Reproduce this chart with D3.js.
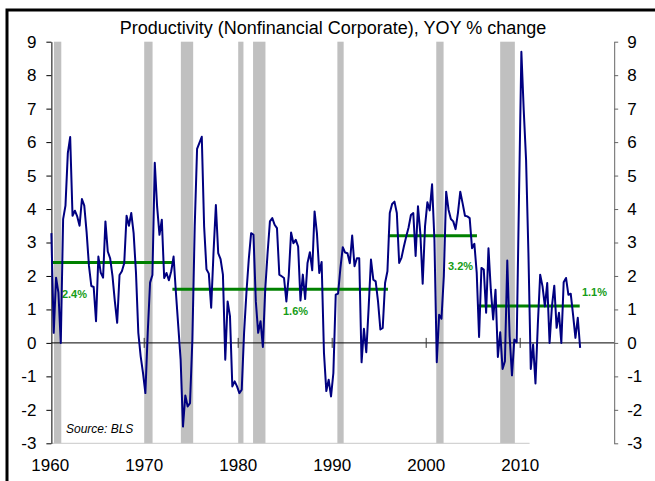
<!DOCTYPE html>
<html>
<head>
<meta charset="utf-8">
<script src="https://cdn.jsdelivr.net/npm/d3@7"></script>
<style>
  body { margin: 0; background: #fff; }
  svg { display: block; font-family: Arial, "Liberation Sans", sans-serif; }
</style>
</head>
<body>
<div id="chart"></div>
<script>
// quarterly YOY % change, 1960Q1 .. 2016Q2
const startYear = 1960;
const productivity = [
  3.28, 0.3, 1.95, 1.5,     // 1960
  0.0, 3.7, 4.1, 5.67,      // 1961
  6.15, 3.8, 3.95, 3.78,    // 1962
  3.5, 4.3, 4.1, 3.3,       // 1963
  2.3, 1.7, 1.67, 0.65,     // 1964
  2.58, 2.1, 1.95, 3.63,    // 1965
  2.73, 2.53, 2.0, 1.25,    // 1966
  0.6, 2.03, 2.14, 2.38,    // 1967
  3.8, 3.5, 3.88, 3.28,     // 1968
  2.1, 0.3, -0.4, -0.9,     // 1969
  -1.5, 0.3, 1.8, 2.03,     // 1970
  5.38, 4.07, 3.23, 3.68,   // 1971
  1.94, 2.09, 1.87, 2.14,   // 1972
  2.58, 1.5, 0.5, -0.5,     // 1973
  -2.5, -1.57, -1.9, -1.8,  // 1974
  0.1, 3.48, 5.8, 5.98,     // 1975
  6.16, 3.48, 2.2, 2.07,    // 1976
  1.05, 2.7, 4.12, 2.68,    // 1977
  2.5, 2.04, -0.5, 1.24,    // 1978
  0.8, -1.3, -1.15, -1.3,   // 1979
  -1.5, -1.4, 0.3, 1.5,     // 1980
  2.5, 3.28, 3.23, 1.24,    // 1981
  0.3, 0.65, -0.12, 1.6,    // 1982
  2.68, 3.63, 3.73, 3.53,   // 1983
  3.43, 2.04, 1.99, 1.94,   // 1984
  1.24, 2.0, 3.3, 2.98,     // 1985
  3.08, 2.88, 1.27, 2.04,   // 1986
  1.31, 2.39, 2.71, 2.17,   // 1987
  3.93, 3.28, 2.09, 2.42,   // 1988
  -0.3, -1.44, -1.1, -1.6,  // 1989
  -0.9, 1.44, 1.47, 2.24,   // 1990
  2.86, 2.7, 2.68, 2.38,    // 1991
  3.21, 2.29, 2.53, 2.53,   // 1992
  -0.58, 0.42, -0.28, 1.04, // 1993
  2.49, 1.89, 1.84, 1.24,   // 1994
  0.4, 0.45, 1.79, 2.14,    // 1995
  3.88, 4.15, 4.22, 3.88,   // 1996
  2.39, 2.55, 2.88, 3.18,   // 1997
  3.45, 3.82, 3.88, 2.6,    // 1998
  4.08, 3.28, 1.77, 3.48,   // 1999
  4.2, 3.96, 4.74, 3.08,    // 2000
  -0.58, 0.84, 0.72, 1.99,  // 2001
  4.52, 3.98, 3.7, 3.63,    // 2002
  3.4, 3.88, 4.52, 4.17,    // 2003
  3.8, 3.78, 3.73, 2.83,    // 2004
  2.96, 2.09, 0.18, 2.24,   // 2005
  2.19, 0.9, 2.83, 1.59,    // 2006
  0.7, 1.59, -0.42, 0.32,   // 2007
  -0.78, -0.55, 2.46, 0.2,  // 2008
  -0.97, 0.1, 0.02, 4.4,    // 2009
  8.7, 6.96, 5.47, 2.68,    // 2010
  -0.78, -0.05, -1.21, 0.55,// 2011
  2.04, 1.69, 1.09, 1.79,   // 2012
  0.0, 1.09, 1.71, 0.45,    // 2013
  0.9, 0.0, 1.81, 1.94,     // 2014
  1.44, 1.47, 0.84, 0.15,   // 2015
  0.75, -0.15               // 2016
];

// recessions (decimal years)
const recessions = [
  [1960.40, 1961.18], [1970.0, 1970.89], [1973.90, 1975.21], [1980.0, 1980.56],
  [1981.58, 1982.90], [1990.55, 1991.22], [2001.07, 2001.85], [2007.87, 2009.43]
];

// period averages
const avgFrom = [1960.125, 1973.0, 1995.93, 2005.43];
const avgTo = [1973.0, 1995.93, 2005.40, 2016.33];
const avgValue = [2.4, 1.6, 3.2, 1.1];
const avgLabel = ["2.4%", "1.6%", "3.2%", "1.1%"];

const yTicks = [-3, -2, -1, 0, 1, 2, 3, 4, 5, 6, 7, 8, 9];
const xTicks = [1960, 1970, 1980, 1990, 2000, 2010];

const width = 655;
const height = 481;
const font = "Arial, 'Liberation Sans', sans-serif";

const data = productivity.map((v, i) => ({
  t: startYear + Math.floor(i / 4) + (i % 4) / 4 + 0.125,
  v: v
}));

const x = d3.scaleLinear().domain([1960, 2020]).range([50.2, 614.2]);
const y = d3.scaleLinear().domain([-3, 9]).range([443.3, 41.7]);
const x0 = x(data[0].t);

const svg = d3.select("#chart")
  .append("svg")
  .attr("width", width)
  .attr("height", height);

// frame (cut off at right and bottom)
svg.append("path")
  .attr("d", `M7,${height} L7,10 L${width},10`)
  .attr("fill", "none")
  .attr("stroke", "#000")
  .attr("stroke-width", 3);

// title
svg.append("text")
  .attr("x", 333)
  .attr("y", 34)
  .attr("text-anchor", "middle")
  .attr("font-size", 18)
  .text("Productivity (Nonfinancial Corporate), YOY % change");

// recession bars
svg.append("g")
  .selectAll("rect")
  .data(recessions)
  .enter()
  .append("rect")
  .attr("x", d => x(d[0]))
  .attr("y", y(9))
  .attr("width", d => x(d[1]) - x(d[0]))
  .attr("height", y(-3) - y(9))
  .attr("fill", "#c0c0c0");

// bottom line
svg.append("line")
  .attr("x1", x0).attr("x2", x(2011))
  .attr("y1", y(-3)).attr("y2", y(-3))
  .attr("stroke", "#c8c8c8");

// zero line with decade ticks
svg.append("line")
  .attr("x1", x0).attr("x2", x(2020))
  .attr("y1", y(0)).attr("y2", y(0))
  .attr("stroke", "#000");

svg.append("g")
  .selectAll("line")
  .data(xTicks.slice(1))
  .enter()
  .append("line")
  .attr("x1", d => x(d)).attr("x2", d => x(d))
  .attr("y1", y(0) - 5).attr("y2", y(0) + 5)
  .attr("stroke", "#333");

// left axis
const yAxisLeft = d3.axisLeft(y)
  .tickValues(yTicks)
  .tickFormat(d => String(d))
  .tickSize(5)
  .tickSizeOuter(0)
  .tickPadding(10);

const gl = svg.append("g")
  .attr("transform", `translate(${x0},0)`)
  .call(yAxisLeft);
gl.selectAll("text").attr("font-size", 17).attr("font-family", font).attr("fill", "#000");
gl.select(".domain").attr("stroke", "#000");

// right axis
const yAxisRight = d3.axisRight(y)
  .tickValues(yTicks)
  .tickFormat(d => String(d))
  .tickSize(4)
  .tickSizeOuter(0)
  .tickPadding(9);

const gr = svg.append("g")
  .attr("transform", `translate(${x(2020)},0)`)
  .call(yAxisRight);
gr.selectAll("text").attr("font-size", 17).attr("font-family", font).attr("fill", "#000");
gr.selectAll("line").attr("stroke", "#666");
gr.select(".domain").attr("stroke", "#666");

// x labels
svg.append("g")
  .selectAll("text")
  .data(xTicks)
  .enter()
  .append("text")
  .attr("x", d => x(d))
  .attr("y", 471)
  .attr("text-anchor", "middle")
  .attr("font-size", 17)
  .text(d => d);

// averages
svg.append("g")
  .selectAll("line")
  .data(avgValue)
  .enter()
  .append("line")
  .attr("x1", (d, i) => x(avgFrom[i]))
  .attr("x2", (d, i) => x(avgTo[i]))
  .attr("y1", d => y(d))
  .attr("y2", d => y(d))
  .attr("stroke", "#008000")
  .attr("stroke-width", 3);

// label anchors: [year, value, anchor]
const labelPos = [[1961.25, 1.45, "start"], [1986.1, 0.94, "middle"], [2003.65, 2.28, "middle"], [2017.9, 1.53, "middle"]];
svg.append("g")
  .selectAll("text")
  .data(avgLabel)
  .enter()
  .append("text")
  .attr("x", (d, i) => x(labelPos[i][0]))
  .attr("y", (d, i) => y(labelPos[i][1]))
  .attr("dy", "0.35em")
  .attr("text-anchor", (d, i) => labelPos[i][2])
  .attr("font-size", 11)
  .attr("font-weight", "bold")
  .attr("fill", "#169c16")
  .text(d => d);

// productivity line
const line = d3.line()
  .x(d => x(d.t))
  .y(d => y(d.v));

svg.append("path")
  .datum(data)
  .attr("d", line)
  .attr("fill", "none")
  .attr("stroke", "#000080")
  .attr("stroke-width", 2)
  .attr("stroke-linejoin", "round");

// source note
svg.append("text")
  .attr("x", 66)
  .attr("y", 433)
  .attr("font-size", 12)
  .attr("font-style", "italic")
  .text("Source: BLS");
</script>
</body>
</html>
